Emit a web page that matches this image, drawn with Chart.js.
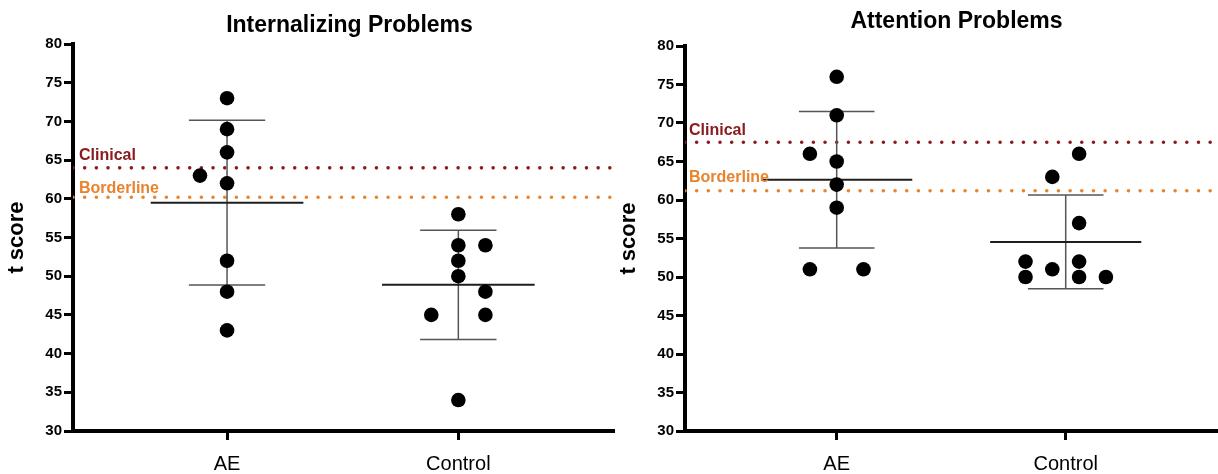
<!DOCTYPE html>
<html>
<head>
<meta charset="utf-8">
<script src="https://cdn.jsdelivr.net/npm/chart.js@4.4.1/dist/chart.umd.min.js"></script>
<style>
  html, body { margin: 0; padding: 0; background: #fff; }
  #wrap { position: relative; width: 1218px; height: 474px; overflow: hidden; background: #fff; }
  canvas { position: absolute; top: 0; }
  #cInt { left: 0; }
  #cAtt { left: 612px; }
</style>
</head>
<body>
<div id="wrap">
  <canvas id="cInt" width="620" height="474"></canvas>
  <canvas id="cAtt" width="606" height="474"></canvas>
</div>
<script>
// Groups on the x axis and the y tick values
const groups = ['AE', 'Control'];
const yTicks = [30, 35, 40, 45, 50, 55, 60, 65, 70, 75, 80];

// Internalizing Problems: t scores per participant (shift = column offset in dot steps)
const intAE = [73, 69, 66, 63, 62, 52, 48, 43];
const intAEShift = [0, 0, 0, -1, 0, 0, 0, 0];
const intCtrl = [58, 54, 54, 52, 50, 48, 45, 45, 34];
const intCtrlShift = [0, 0, 1, 0, 0, 1, -1, 1, 0];
const intCutoffs = [64, 60.2];

// Attention Problems
const attAE = [76, 71, 66, 65, 62, 59, 51, 51];
const attAEShift = [0, 0, -1, 0, 0, 0, -1, 1];
const attCtrl = [66, 63, 57, 52, 52, 51, 50, 50, 50];
const attCtrlShift = [0.5, -0.5, 0.5, -1.5, 0.5, -0.5, -1.5, 0.5, 1.5];
const attCutoffs = [67.5, 61.2];

const cutoffNames = ['Clinical', 'Borderline'];
const cutoffColors = ['#8a1c20', '#e8832e'];

const FONT = '"Liberation Sans", Arial, Helvetica, sans-serif';
const STEP = 0.117;       // horizontal distance between neighbouring dots (x units)
const MEAN_HALF = 0.33;   // half length of the mean bar
const CAP_HALF = 0.165;   // half length of the SD caps

function mean(a) { return a.reduce((s, v) => s + v, 0) / a.length; }
function sd(a) {
  const m = mean(a);
  return Math.sqrt(a.reduce((s, v) => s + (v - m) * (v - m), 0) / (a.length - 1));
}

function seg(x1, y1, x2, y2, color, width, order) {
  return {
    data: [{ x: x1, y: y1 }, { x: x2, y: y2 }],
    showLine: true, borderColor: color, borderWidth: width,
    pointRadius: 0, pointHoverRadius: 0, order: order
  };
}

// Draws the panel title and the cutoff captions as canvas text
const panelText = {
  id: 'panelText',
  afterDraw(chart, args, opts) {
    const { ctx, chartArea } = chart;
    const y = chart.scales.y;
    ctx.save();
    ctx.fillStyle = '#000';
    ctx.font = 'bold 23px ' + FONT;
    ctx.textAlign = 'center';
    ctx.textBaseline = 'alphabetic';
    ctx.fillText(opts.title, (chartArea.left + chartArea.right) / 2 + opts.titleShift, opts.titleBaseline);
    ctx.font = 'bold 16px ' + FONT;
    ctx.textAlign = 'left';
    opts.cutoffs.forEach((v, i) => {
      ctx.fillStyle = cutoffColors[i];
      ctx.fillText(cutoffNames[i], chartArea.left + opts.labelDx, y.getPixelForValue(v) - opts.labelLift[i]);
    });
    ctx.restore();
  }
};

function makeChart(id, cfg) {
  const sets = [];
  const series = [[cfg.ae, cfg.aeShift], [cfg.ctrl, cfg.ctrlShift]];
  series.forEach(([vals, shift], gi) => {
    const c = gi + 1;
    sets.push({
      data: vals.map((v, i) => ({ x: c + shift[i] * STEP, y: v })),
      pointRadius: 7.3, pointHoverRadius: 7.3,
      backgroundColor: '#000', borderWidth: 0, order: 0
    });
    const m = mean(vals), s = sd(vals);
    sets.push(seg(c - MEAN_HALF, m, c + MEAN_HALF, m, '#1e1e1e', 2, 1));
    sets.push(seg(c, m - s, c, m + s, '#555', 1.5, 2));
    sets.push(seg(c - CAP_HALF, m + s, c + CAP_HALF, m + s, '#555', 1.5, 2));
    sets.push(seg(c - CAP_HALF, m - s, c + CAP_HALF, m - s, '#555', 1.5, 2));
  });
  cfg.cutoffs.forEach((v, i) => {
    sets.push({
      data: [{ x: cfg.xMin, y: v }, { x: cfg.xMax, y: v }],
      showLine: true, borderColor: cutoffColors[i], borderWidth: 3.6,
      borderDash: [0, 11.67], borderCapStyle: 'round',
      pointRadius: 0, pointHoverRadius: 0, order: 3
    });
  });

  const tickGrid = {
    display: true, drawOnChartArea: false, drawTicks: true,
    tickLength: 9, tickWidth: 3, tickColor: '#000'
  };

  return new Chart(document.getElementById(id), {
    type: 'scatter',
    data: { datasets: sets },
    plugins: [panelText],
    options: {
      responsive: false,
      animation: false,
      events: [],
      layout: { autoPadding: false, padding: { top: cfg.top, right: cfg.right, left: 0, bottom: 0 } },
      plugins: {
        legend: { display: false },
        tooltip: { enabled: false },
        panelText: {
          title: cfg.title, titleShift: cfg.titleShift, titleBaseline: cfg.titleBaseline,
          cutoffs: cfg.cutoffs, labelDx: cfg.labelDx, labelLift: cfg.labelLift
        }
      },
      scales: {
        x: {
          type: 'linear', min: cfg.xMin, max: cfg.xMax,
          afterBuildTicks: s => { s.ticks = groups.map((g, i) => ({ value: i + 1 })); },
          afterFit: s => { s.height = 43; },
          ticks: {
            callback: v => groups[Math.round(v) - 1],
            font: { family: FONT, size: 20 }, color: '#000',
            padding: 12, maxRotation: 0, autoSkip: false
          },
          grid: tickGrid,
          border: { display: true, width: 4, color: '#000' }
        },
        y: {
          type: 'linear', min: 30, max: 80,
          afterBuildTicks: s => { s.ticks = yTicks.map(v => ({ value: v })); },
          afterFit: s => { s.width = 73; },
          ticks: { font: { family: FONT, size: 15, weight: 'bold' }, color: '#000', padding: 2 },
          grid: tickGrid,
          border: { display: true, width: 4, color: '#000' },
          title: {
            display: true, text: 't score', color: '#000',
            font: { family: FONT, size: 22, weight: 'bold' }, padding: { top: 4, bottom: 0 }
          }
        }
      }
    }
  });
}

makeChart('cInt', {
  title: 'Internalizing Problems', titleShift: 6, titleBaseline: 32,
  ae: intAE, aeShift: intAEShift, ctrl: intCtrl, ctrlShift: intCtrlShift,
  cutoffs: intCutoffs, labelDx: 6, labelLift: [7.4, 4.6],
  xMin: 0.334, xMax: 2.673, top: 44, right: 6
});

makeChart('cAtt', {
  title: 'Attention Problems', titleShift: 5, titleBaseline: 27.5,
  ae: attAE, aeShift: attAEShift, ctrl: attCtrl, ctrlShift: attCtrlShift,
  cutoffs: attCutoffs, labelDx: 4, labelLift: [7.3, 9],
  xMin: 0.3376, xMax: 2.665, top: 46, right: 0
});
</script>
</body>
</html>
